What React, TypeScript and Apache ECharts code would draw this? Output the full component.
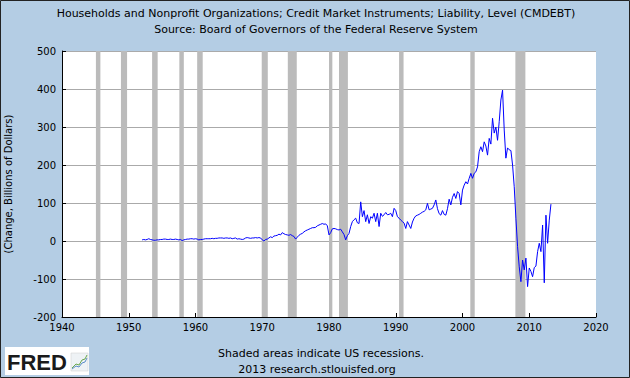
import React, { useEffect, useRef } from "react";
import * as echarts from "echarts";

const titleLines = [
  "Households and Nonprofit Organizations; Credit Market Instruments; Liability, Level (CMDEBT)",
  "Source: Board of Governors of the Federal Reserve System",
];
const footerLines = ["Shaded areas indicate US recessions.", "2013 research.stlouisfed.org"];
const yAxisName = "(Change, Billions of Dollars)";

const firstYear = 1952; // first quarter = 1952 Q1, quarterly thereafter
const changeValues = [
  // 1952-1959
  3, 4, 3, 4, 6, 4, 3, 2, 2, 3, 3, 4, 4, 5, 5, 4, 4, 5, 4, 4, 5, 4, 3, 4, 1, 3, 4, 5, 5, 6, 6, 5,
  // 1960-1969
  6, 5, 3, 4, 4, 5, 6, 6, 6, 6, 7, 6, 7, 7, 8, 8, 8, 7, 8, 8, 7, 8, 6, 7, 8, 5, 6, 5, 4, 5, 8, 9,
  8, 7, 8, 8, 9, 8, 9, 8,
  // 1970-1979
  3, 0, 4, 5, 8, 11, 9, 13, 14, 15, 18, 16, 22, 19, 17, 16, 15, 17, 14, 12, 5, 10, 15, 18,
  20, 24, 27, 29, 31, 33, 35, 35, 36, 40, 42, 44, 46, 44, 45, 40,
  // 1980-1989
  16, 22, 32, 33, 32, 30, 29, 31, 24, 17, 3, 14, 20, 38, 51, 56, 60, 48, 46, 103,
  64, 80, 51, 69, 46, 64, 60, 73, 51, 73, 38, 73, 65, 69, 75, 69, 70, 73, 64, 86,
  // 1990-1999
  80, 64, 60, 55, 51, 47, 33, 51, 42, 33, 50, 60, 66, 68, 70, 73, 76, 78, 82, 99,
  82, 84, 86, 95, 108, 85, 72, 68, 80, 70, 68, 85, 110, 95, 115, 125, 112, 130, 125, 95,
  // 2000-2009
  134, 147, 156, 150, 165, 178, 165, 178, 182, 195, 235, 248, 235, 261, 250, 226,
  270, 255, 323, 284, 300, 265, 314, 371, 397, 292, 218, 245, 240, 238, 200, 143,
  60, -15, -68, -107, -50, -76, -45, -120,
  // 2010-2013
  -71, -80, -94, -70, -66, -28, -6, -28, 42, -110, 68, -6, 55, 97,
];

const recessionStarts = [1945.08, 1948.83, 1953.5, 1957.58, 1960.25, 1969.92, 1973.83, 1980.0, 1981.5, 1990.5, 2001.17, 2007.92];
const recessionEnds = [1945.75, 1949.75, 1954.33, 1958.25, 1961.08, 1970.83, 1975.17, 1980.5, 1982.83, 1991.17, 2001.83, 2009.42];

const FONT = "DejaVu Sans";

export default function App() {
  const ref = useRef<HTMLDivElement>(null);
  useEffect(() => {
    if (!ref.current) return;
    const chart = echarts.init(ref.current, null, { renderer: "svg" });
    const lineData = changeValues.map((v, i) => [firstYear + i / 4, v]);
    const areas = recessionStarts.map((s, i) => [{ xAxis: s }, { xAxis: recessionEnds[i] }]);
    chart.setOption({
      animation: false,
      backgroundColor: "#b4cde4",
      grid: {
        left: 62,
        right: 34,
        top: 51,
        bottom: 61,
        containLabel: false,
        outerBoundsMode: "none",
        show: true,
        backgroundColor: "#ffffff",
        borderWidth: 0,
      },
      xAxis: {
        type: "value",
        min: 1940,
        max: 2020,
        interval: 10,
        axisLine: { show: true, onZero: false, lineStyle: { color: "#000", width: 1 } },
        axisTick: { show: true, inside: true, length: 4, lineStyle: { color: "#000" } },
        axisLabel: { color: "#000", fontFamily: FONT, fontSize: 10, margin: 5, formatter: (v: number) => String(v) },
        splitLine: { show: false },
      },
      yAxis: {
        type: "value",
        min: -200,
        max: 500,
        interval: 100,
        name: yAxisName,
        nameLocation: "middle",
        nameRotate: 90,
        nameGap: 49,
        nameTextStyle: { color: "#000", fontFamily: FONT, fontSize: 10 },
        axisLine: { show: true, lineStyle: { color: "#000", width: 1 } },
        axisTick: { show: true, inside: true, length: 4, lineStyle: { color: "#000" } },
        axisLabel: { color: "#000", fontFamily: FONT, fontSize: 10, margin: 6, formatter: (v: number) => String(v) },
        splitLine: { show: true, lineStyle: { color: "#aaaaaa", width: 1 } },
      },
      series: [
        {
          type: "line",
          data: [],
          z: 1,
          silent: true,
          markArea: {
            silent: true,
            itemStyle: { color: "#bbbbbb", opacity: 1 },
            data: areas,
          },
        },
        {
          type: "line",
          data: lineData,
          z: 3,
          showSymbol: false,
          symbol: "none",
          lineStyle: { color: "#0000ff", width: 1 },
        },
      ],
      graphic: [
        {
          type: "rect",
          shape: { x: 0.5, y: 0.5, width: 629, height: 377 },
          style: { fill: "none", stroke: "#222", lineWidth: 1 },
          silent: true,
          z: 10,
        },
        {
          type: "text",
          x: 316,
          y: 13,
          style: { text: titleLines[0], fill: "#000", font: `11px '${FONT}'`, textAlign: "center", textVerticalAlign: "middle" },
        },
        {
          type: "text",
          x: 316,
          y: 29,
          style: { text: titleLines[1], fill: "#000", font: `11px '${FONT}'`, textAlign: "center", textVerticalAlign: "middle" },
        },
        {
          type: "text",
          x: 321,
          y: 353,
          style: { text: footerLines[0], fill: "#000", font: `11px '${FONT}'`, textAlign: "center", textVerticalAlign: "middle" },
        },
        {
          type: "text",
          x: 317,
          y: 369,
          style: { text: footerLines[1], fill: "#000", font: `11px '${FONT}'`, textAlign: "center", textVerticalAlign: "middle" },
        },
        {
          type: "group",
          x: 5,
          y: 347,
          children: [
            { type: "rect", shape: { x: 0, y: 0, width: 84, height: 28 }, style: { fill: "#ffffff" } },
            {
              type: "text",
              x: 2,
              y: 15,
              style: { text: "FRED", fill: "#1a1a1a", font: "bold 22px 'Liberation Sans'", textVerticalAlign: "middle" },
            },
            { type: "rect", shape: { x: 66, y: 6, width: 17, height: 18 }, style: { fill: "#eef2f5", stroke: "#cccccc", lineWidth: 0.5 } },
            {
              type: "polyline",
              shape: { points: [[67, 21], [71, 17], [74, 18], [77, 13], [80, 12], [82, 8]] },
              style: { stroke: "#6aa84f", lineWidth: 1, fill: "none" },
            },
            {
              type: "polyline",
              shape: { points: [[67, 22], [71, 19], [74, 20], [77, 16], [80, 15], [82, 11]] },
              style: { stroke: "#5b8dc9", lineWidth: 1, fill: "none" },
            },
          ],
        },
      ],
    });
    return () => chart.dispose();
  }, []);
  return <div ref={ref} style={{ position: "fixed", left: 0, top: 0, width: 630, height: 378 }} />;
}
